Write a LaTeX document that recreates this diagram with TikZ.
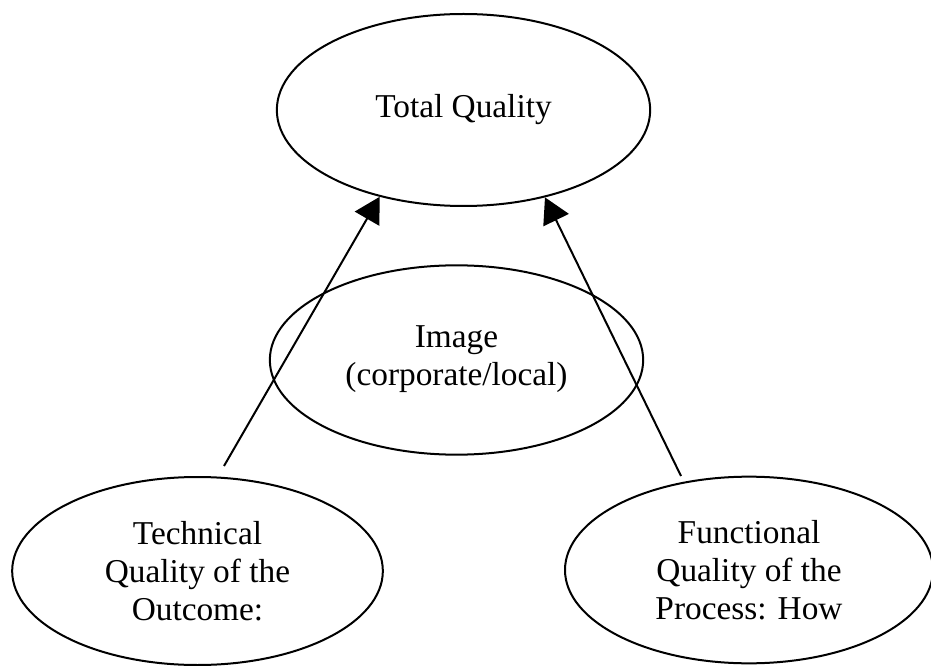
\documentclass[tikz,border=0pt]{standalone}
\usepackage{fontspec}
\setmainfont{Liberation Serif}
\usepackage{tikz}
\usetikzlibrary{shapes.geometric}
\usetikzlibrary{arrows.meta}

\tikzset{
  qualbox/.style={draw, ellipse, line width=1.5pt, inner sep=0pt, align=center,
    font=\fontsize{25}{28.5}\selectfont},
  qualarrow/.style={line width=1.5pt, -{Triangle[length=19pt,width=21pt]}}
}

\begin{document}
\begin{tikzpicture}[x=0.75pt,y=0.75pt,yscale=-1,xscale=1]
\useasboundingbox (0,0) rectangle (931,666);
% Ellipse
\node [qualbox, minimum width=280pt, minimum height=144pt] (tq) at (463.5,110) {Total Quality};
% Ellipse
\node [qualbox, minimum width=280pt, minimum height=142pt, text depth=6pt] (img) at (456.5,360) {Image\\(corporate/local)};
% Ellipse
\node [qualbox, minimum width=278pt, minimum height=141pt] (tech) at (197.5,571) {Technical\\Quality of the\\Outcome:};
% Ellipse
\node [qualbox, minimum width=276pt, minimum height=140pt] (func) at (749,570) {Functional\\Quality of the\\Process: How};
% Arrow tails
\coordinate (techtail) at (224,466);
\coordinate (functail) at (681,476);
% Straight Lines
\draw [qualarrow] (techtail) -- (tq.226);
% Straight Lines
\draw [qualarrow] (functail) -- (tq.313);
\end{tikzpicture}
\end{document}
